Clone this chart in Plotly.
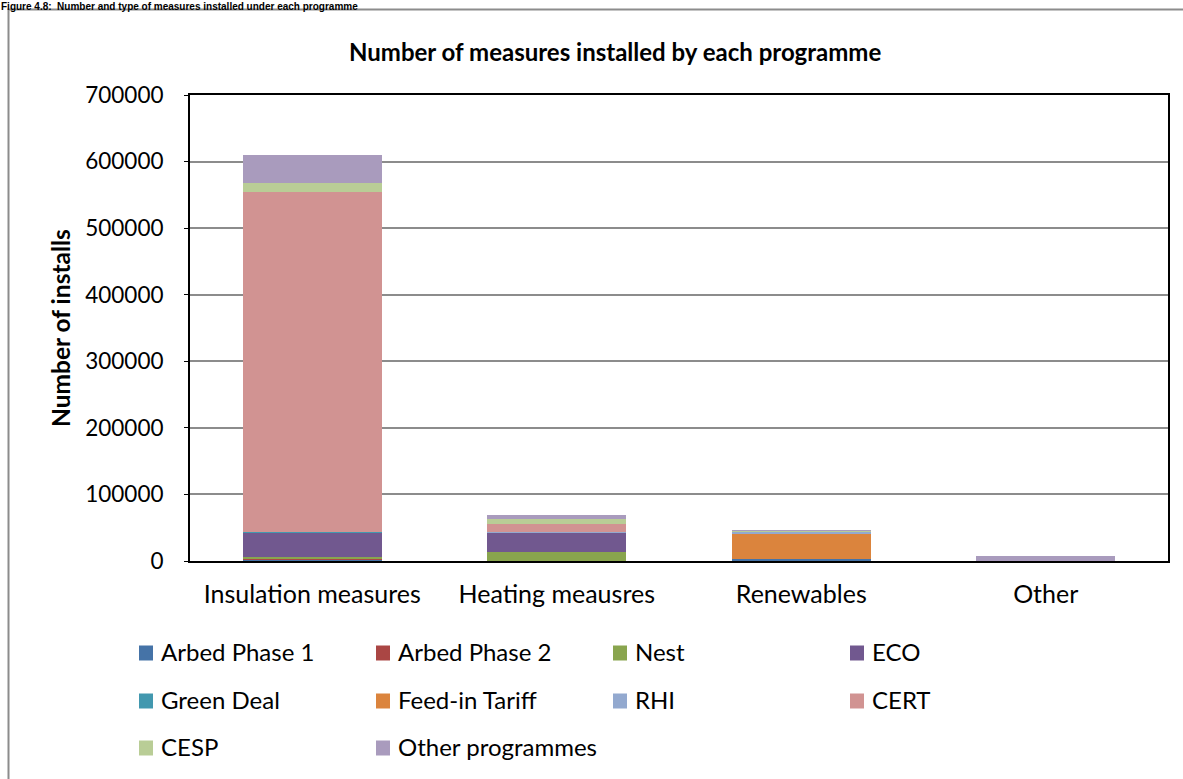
import plotly.graph_objects as go

categories = ["Insulation measures", "Heating meausres", "Renewables", "Other"]

series_names = ["Arbed Phase 1", "Arbed Phase 2", "Nest", "ECO", "Green Deal",
                "Feed-in Tariff", "RHI", "CERT", "CESP", "Other programmes"]

arbed1 = [2500, 300, 3000, 0]
arbed2 = [1200, 100, 200, 0]
nest = [2500, 13000, 0, 0]
eco = [36600, 29500, 0, 0]
green_deal = [1000, 300, 0, 0]
feed_in = [0, 0, 38500, 0]
rhi = [300, 1000, 2000, 0]
cert = [510500, 12000, 0, 0]
cesp = [13500, 7000, 2000, 0]
other_prog = [41600, 6500, 500, 7500]

colors = ["#4573a7", "#aa4644", "#89a54e", "#71588f", "#4298af",
          "#db843d", "#93a9cf", "#d19392", "#b9cd96", "#a99bbd"]

data = [arbed1, arbed2, nest, eco, green_deal, feed_in, rhi, cert, cesp, other_prog]

FONT = "Lato"

fig = go.Figure()
for name, vals, col in zip(series_names, data, colors):
    fig.add_trace(go.Bar(x=categories, y=vals, name=name,
                         marker=dict(color=col, line=dict(width=0)),
                         showlegend=False))

# plot area in pixels
L, R, T, B = 190, 1168, 95, 561
W, H = 1183, 779
pw, ph = R - L, B - T

def px(x):
    return (x - L) / pw

def py(y):
    return (B - y) / ph

fig.update_layout(
    width=W, height=H,
    margin=dict(l=L, r=W - R, t=T, b=H - B, pad=0),
    paper_bgcolor="white", plot_bgcolor="white",
    barmode="stack", bargap=0.43,
    font=dict(family=FONT, color="black", size=24),
    showlegend=False,
)

fig.update_xaxes(showline=True, linecolor="black", linewidth=2, mirror=True,
                 showgrid=False, ticks="", tickfont=dict(family=FONT, size=25),
                 ticklabelstandoff=10)
fig.update_yaxes(range=[0, 700000], dtick=100000, tickformat="d",
                 showline=True, linecolor="black", linewidth=2, mirror=True,
                 showgrid=True, gridcolor="#8c8c8c", gridwidth=1.5,
                 ticks="outside", ticklen=4, tickcolor="black",
                 tickfont=dict(family=FONT, size=22.5), ticklabelstandoff=16,
                 zeroline=False)

# outer chart border (right/bottom edges off-canvas)
fig.add_shape(type="rect", xref="paper", yref="paper",
              x0=px(8.5), x1=px(1300), y0=py(9.5), y1=py(900),
              line=dict(color="#8c8c8c", width=2), layer="below")

# Figure caption
fig.add_annotation(xref="paper", yref="paper", x=px(0), y=py(0),
                   xanchor="left", yanchor="top", showarrow=False, borderpad=0,
                   text="<b>Figure 4.8:  Number and type of measures installed under each programme</b>",
                   font=dict(family="Liberation Sans", size=10, color="black"))

# chart title
fig.add_annotation(xref="paper", yref="paper", x=px(615), y=py(51),
                   xanchor="center", yanchor="middle", showarrow=False,
                   text="<b>Number of measures installed by each programme</b>",
                   font=dict(family=FONT, size=24, color="black"))

# y-axis title
fig.add_annotation(xref="paper", yref="paper", x=px(60), y=py(328),
                   xanchor="center", yanchor="middle", showarrow=False,
                   textangle=-90,
                   text="<b>Number of installs</b>",
                   font=dict(family=FONT, size=24.5, color="black"))

# legend (manual, 4 columns x 3 rows)
col_x = [139, 376, 613, 850]
row_y = [653, 701, 748]
for i, (name, col) in enumerate(zip(series_names, colors)):
    r, c = divmod(i, 4)
    x0 = col_x[c]
    y0 = row_y[r]
    fig.add_shape(type="rect", xref="paper", yref="paper",
                  x0=px(x0), x1=px(x0 + 14), y0=py(y0 + 7.5), y1=py(y0 - 7.5),
                  fillcolor=col, line=dict(width=0))
    fig.add_annotation(xref="paper", yref="paper", x=px(x0 + 20), y=py(y0 - 1.5),
                       xanchor="left", yanchor="middle", showarrow=False,
                       text=name, font=dict(family=FONT, size=24, color="black"))

fig.write_html("out.html", config={"displayModeBar": False},
               post_script="document.body.style.margin='0';document.body.style.overflow='hidden';")
